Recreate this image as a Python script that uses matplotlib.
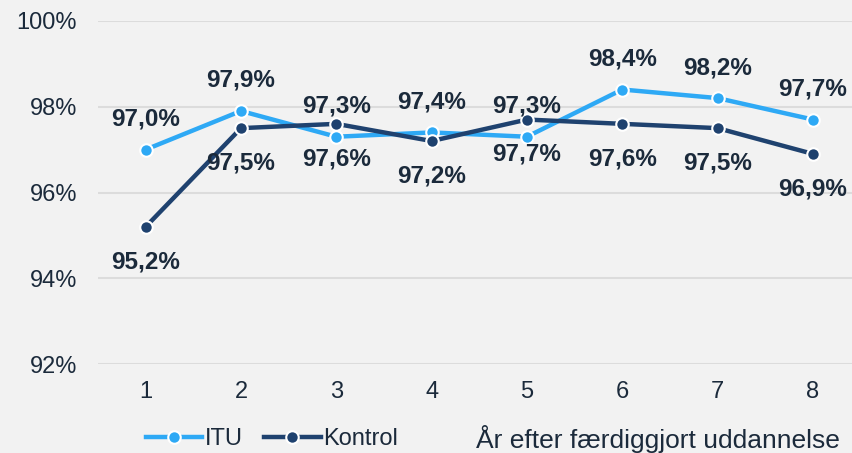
import matplotlib.pyplot as plt
from matplotlib import font_manager as fm
from matplotlib.lines import Line2D

plt.rcParams['font.family'] = ['Liberation Sans', 'DejaVu Sans']

# regular and bold Liberation Sans, taken by file so the narrow cut is not picked
files = fm.findSystemFonts()
def pick(name):
    for f in files:
        if f.endswith(name):
            return fm.FontProperties(fname=f)
    return fm.FontProperties(family="Liberation Sans")
reg = pick("LiberationSans-Regular.ttf")
bold = pick("LiberationSans-Bold.ttf")

# data
years = [1, 2, 3, 4, 5, 6, 7, 8]
itu = [97.0, 97.9, 97.3, 97.4, 97.3, 98.4, 98.2, 97.7]
kontrol = [95.2, 97.5, 97.6, 97.2, 97.7, 97.6, 97.5, 96.9]
yticks = [92, 94, 96, 98, 100]

bg = "#f2f2f2"
c_itu = "#2ea9f5"
c_kon = "#1f426f"
txt = "#1b2a3b"

fig = plt.figure(figsize=(8.52, 4.53), dpi=100, facecolor=bg)
ax = fig.add_axes([0.115, 0.196, 0.885, 0.758], facecolor=bg)

ax.plot(years, itu, color=c_itu, lw=3.2, marker="o", ms=9,
        mfc=c_itu, mec="white", mew=1.5, zorder=3)
ax.plot(years, kontrol, color=c_kon, lw=3.2, marker="o", ms=9,
        mfc=c_kon, mec="white", mew=1.5, zorder=3)

def fmt(v):
    return f"{v:.1f}%".replace(".", ",")

# labels: ITU above, Kontrol below
for x, v in zip(years, itu):
    ax.annotate(fmt(v), (x, v), xytext=(0, 22), textcoords="offset points",
                ha="center", va="center", fontproperties=bold, fontsize=17.5,
                color=txt, zorder=4)
for x, v in zip(years, kontrol):
    ax.annotate(fmt(v), (x, v), xytext=(0, -25), textcoords="offset points",
                ha="center", va="center", fontproperties=bold, fontsize=17.5,
                color=txt, zorder=4)

ax.set_ylim(92, 100)
ax.set_xlim(0.5, 8.41)
ax.set_yticks(yticks)
ax.set_yticklabels([f"{t}%" for t in yticks])
ax.set_xticks(years)
ax.tick_params(axis="both", length=0, colors=txt)
ax.tick_params(axis="y", pad=15)
ax.tick_params(axis="x", pad=12)
for lab in ax.get_xticklabels() + ax.get_yticklabels():
    lab.set_fontproperties(reg)
    lab.set_fontsize(17)
ax.grid(axis="y", color="#dcdcdc", lw=1.5)
ax.set_axisbelow(True)
for s in ax.spines.values():
    s.set_visible(False)

handles = [
    Line2D([], [], color=c_itu, lw=3.2, marker="o", ms=9, mfc=c_itu, mec="white", mew=1.5),
    Line2D([], [], color=c_kon, lw=3.2, marker="o", ms=9, mfc=c_kon, mec="white", mew=1.5),
]
leg_prop = reg.copy()
leg_prop.set_size(17)
fig.legend(handles, ["ITU", "Kontrol"], loc="center left",
           bbox_to_anchor=(0.171, 0.03), ncol=2, frameon=False,
           prop=leg_prop, handlelength=2.4, handletextpad=0.1,
           columnspacing=0.9, labelcolor=txt, borderpad=0, borderaxespad=0)

fig.text(0.986, 0.03, "År efter færdiggjort uddannelse", ha="right", va="center",
         fontproperties=reg, fontsize=19, color=txt)

fig.savefig("out.png", dpi=100, facecolor=bg)
